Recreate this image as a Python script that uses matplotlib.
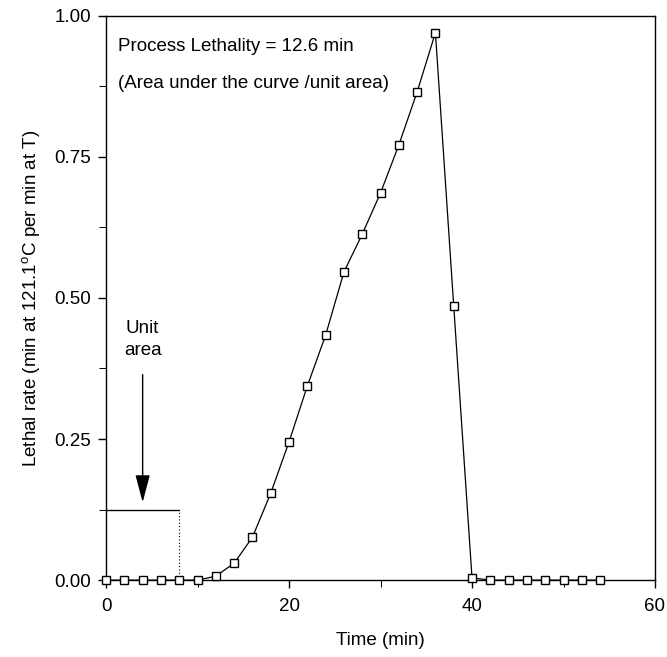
import matplotlib.pyplot as plt
from matplotlib.ticker import MultipleLocator, FormatStrFormatter

# lethal rate at each sampling time
time_min = [0, 2, 4, 6, 8, 10, 12, 14, 16, 18, 20, 22, 24, 26,
            28, 30, 32, 34, 36, 38, 40, 42, 44, 46, 48, 50, 52, 54]
lethal_rate = [0.0, 0.0, 0.0, 0.0, 0.0, 0.0, 0.007, 0.03, 0.076, 0.154,
               0.245, 0.344, 0.434, 0.546, 0.613, 0.686, 0.771, 0.865,
               0.97, 0.486, 0.004, 0.0, 0.0, 0.0, 0.0, 0.0, 0.0, 0.0]

# unit area box: 8 min wide x 0.125 high
unit_x = [0, 8]
unit_h = 0.125

plt.rcParams["font.family"] = ["Liberation Sans", "DejaVu Sans"]
plt.rcParams["mathtext.fontset"] = "custom"
plt.rcParams["mathtext.rm"] = "Liberation Sans"

FS = 13.5

fig = plt.figure(figsize=(6.67, 6.57), dpi=100)
ax = fig.add_axes([0.159, 0.117, 0.823, 0.859])

ax.plot(time_min, lethal_rate, color="black", lw=0.9, marker="s",
        markersize=6, markerfacecolor="white", markeredgecolor="black",
        markeredgewidth=1.0, clip_on=False, zorder=3)

# unit area outline
ax.plot(unit_x, [unit_h, unit_h], color="black", lw=1.0, clip_on=False)
ax.plot([unit_x[1], unit_x[1]], [0, unit_h], color="black", lw=0.8,
        linestyle=(0, (1, 2)))

ax.annotate("", xy=(4, unit_h + 0.008), xytext=(4, 0.369),
            arrowprops=dict(arrowstyle="-|>,head_length=1.7,head_width=0.45",
                            color="black", lw=1.0))
ax.text(4, 0.426, "Unit\narea", ha="center", va="center", fontsize=FS,
        linespacing=1.4)

ax.text(1.3, 0.945, "Process Lethality = 12.6 min", fontsize=FS,
        ha="left", va="center")
ax.text(1.3, 0.88, "(Area under the curve /unit area)", fontsize=FS,
        ha="left", va="center")

ax.set_xlim(0, 60)
ax.set_ylim(0, 1.0)
ax.xaxis.set_major_locator(MultipleLocator(20))
ax.xaxis.set_minor_locator(MultipleLocator(10))
ax.yaxis.set_major_locator(MultipleLocator(0.25))
ax.yaxis.set_minor_locator(MultipleLocator(0.125))
ax.yaxis.set_major_formatter(FormatStrFormatter("%.2f"))

ax.tick_params(which="major", direction="out", length=6, width=1.0,
               labelsize=FS, pad=5)
ax.tick_params(axis="x", which="major", pad=7)
ax.tick_params(which="minor", direction="out", length=5, width=0.7)

for spine in ax.spines.values():
    spine.set_linewidth(1.0)

ax.set_xlabel("Time (min)", fontsize=FS, labelpad=12)
ax.set_ylabel(r"Lethal rate (min at 121.1$^{\mathrm{o}}$C per min at T)",
              fontsize=FS, labelpad=8)

fig.savefig("out.png", dpi=100)
